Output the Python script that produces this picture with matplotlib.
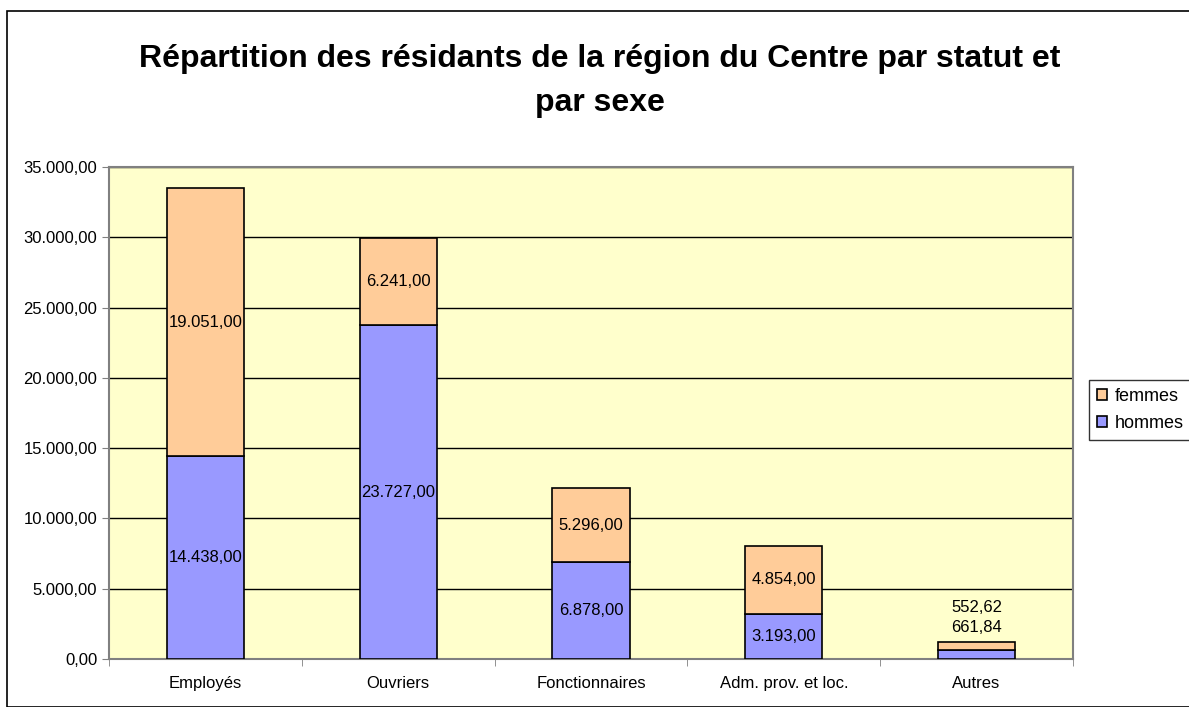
import matplotlib.pyplot as plt
from matplotlib.ticker import FuncFormatter
import numpy as np

plt.rcParams['font.family'] = ['Liberation Sans', 'DejaVu Sans']

categories = ["Employés", "Ouvriers", "Fonctionnaires", "Adm. prov. et loc.", "Autres"]
hommes = [14438.00, 23727.00, 6878.00, 3193.00, 661.84]
femmes = [19051.00, 6241.00, 5296.00, 4854.00, 552.62]


def fr(v, decimals=2):
    s = f"{v:,.{decimals}f}"
    return s.replace(",", " ").replace(".", ",").replace(" ", ".")


fig = plt.figure(figsize=(11.89, 7.07), dpi=100)
ax = fig.add_axes([0.0917, 0.0679, 0.8107, 0.6959])
ax.set_facecolor("#FFFFCC")

x = np.arange(len(categories))
w = 0.4
b1 = ax.bar(x, hommes, w, color="#9999FF", edgecolor="black", linewidth=1.2, label="hommes", zorder=3)
b2 = ax.bar(x, femmes, w, bottom=hommes, color="#FFCC99", edgecolor="black", linewidth=1.2, label="femmes", zorder=3)

for i in range(len(categories)):
    if hommes[i] + femmes[i] > 3000:
        ax.text(x[i], hommes[i] / 2, fr(hommes[i]), ha="center", va="center", fontsize=12, zorder=4)
        ax.text(x[i], hommes[i] + femmes[i] / 2, fr(femmes[i]), ha="center", va="center", fontsize=12, zorder=4)
    else:
        top = hommes[i] + femmes[i]
        ax.text(x[i], top + 1050, fr(hommes[i]), ha="center", va="center", fontsize=12, zorder=4)
        ax.text(x[i], top + 2450, fr(femmes[i]), ha="center", va="center", fontsize=12, zorder=4)

ax.set_xlim(-0.5, len(categories) - 0.5)
ax.set_ylim(0, 35000)
ax.set_yticks(np.arange(0, 35001, 5000))
ax.yaxis.set_major_formatter(FuncFormatter(lambda v, p: fr(v)))
ax.grid(axis="y", color="black", linewidth=1, zorder=1)
ax.set_xticks(x)
ax.set_xticklabels(categories, fontsize=12)
ax.set_xticks(np.arange(-0.5, len(categories)), minor=True)
ax.tick_params(axis="x", which="major", length=0, pad=12)
ax.tick_params(axis="x", which="minor", length=5, direction="out", color="#808080")
ax.tick_params(axis="y", labelsize=12, length=5, color="#808080")
for s in ax.spines.values():
    s.set_color("#808080")
    s.set_linewidth(1.5)

fig.text(0.5045, 0.916, "Répartition des résidants de la région du Centre par statut et",
         ha="center", va="center", fontsize=23, fontweight="bold")
fig.text(0.5045, 0.855, "par sexe", ha="center", va="center", fontsize=23, fontweight="bold")

handles = [b2, b1]
leg = fig.legend(handles, ["femmes", "hommes"], loc="upper left", bbox_to_anchor=(0.916, 0.463),
                 fontsize=13, frameon=True, fancybox=False, edgecolor="black",
                 handlelength=0.55, handleheight=0.55, handletextpad=0.4, borderpad=0.45,
                 labelspacing=0.55, borderaxespad=0)
leg.get_frame().set_linewidth(1)

fig.patches.append(plt.Rectangle((0.006, 0.0), 1.0, 0.984, transform=fig.transFigure,
                                 fill=False, edgecolor="black", linewidth=1.2))

fig.savefig("out.png", dpi=100)
